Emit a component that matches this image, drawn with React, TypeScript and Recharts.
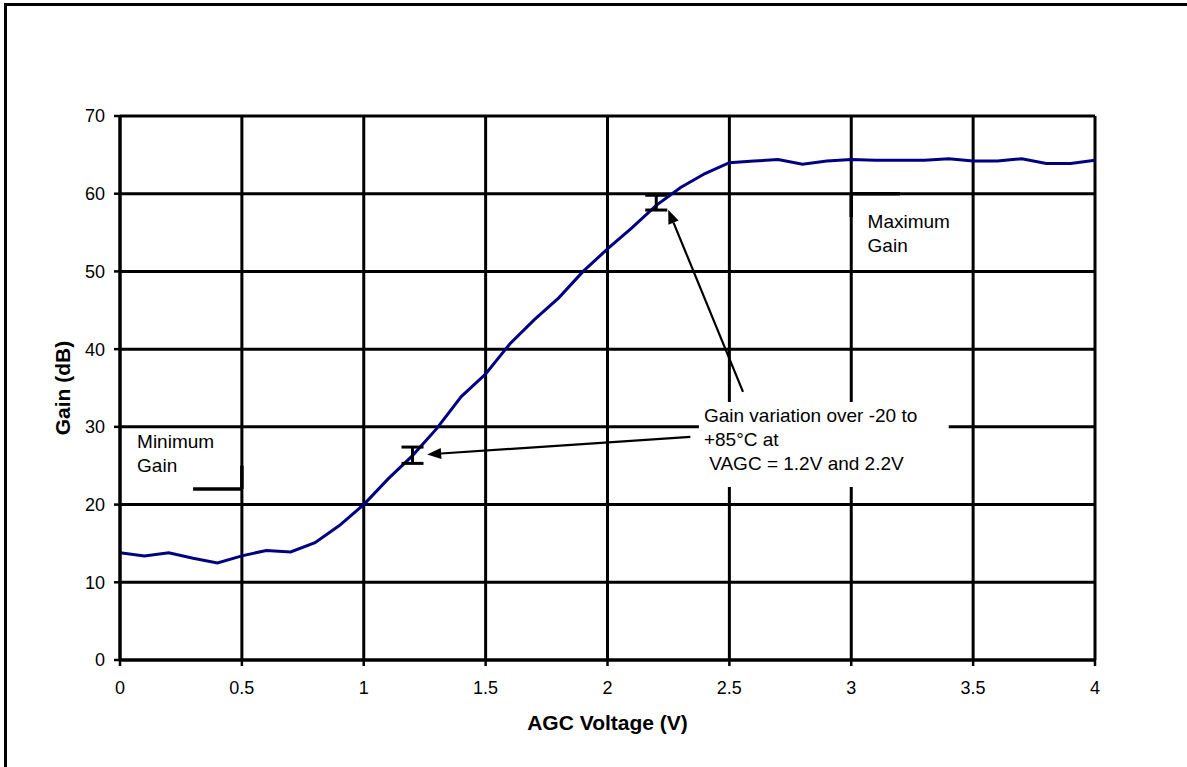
import {
  CartesianGrid,
  ComposedChart,
  ErrorBar,
  Label,
  Line,
  ReferenceArea,
  ReferenceDot,
  ReferenceLine,
  Scatter,
  XAxis,
  YAxis,
} from "recharts";

// AGC voltage sweep (V) and measured gain (dB)
const voltages = [
  0, 0.1, 0.2, 0.3, 0.4, 0.5, 0.6, 0.7, 0.8, 0.9, 1.0, 1.1, 1.2, 1.3, 1.4, 1.5, 1.6, 1.7, 1.8, 1.9, 2.0,
  2.1, 2.2, 2.3, 2.4, 2.5, 2.6, 2.7, 2.8, 2.9, 3.0, 3.1, 3.2, 3.3, 3.4, 3.5, 3.6, 3.7, 3.8, 3.9, 4.0,
];
const gainDb = [
  13.8, 13.4, 13.8, 13.1, 12.5, 13.4, 14.1, 13.9, 15.1, 17.3, 20.0, 23.3, 26.3, 29.8, 33.9, 36.8, 40.7,
  43.8, 46.6, 50.0, 52.9, 55.6, 58.5, 60.8, 62.6, 64.0, 64.2, 64.4, 63.8, 64.2, 64.4, 64.3, 64.3, 64.3,
  64.5, 64.2, 64.2, 64.5, 63.9, 63.9, 64.3,
];

const xTicks = [0, 0.5, 1, 1.5, 2, 2.5, 3, 3.5, 4];
const yTicks = [0, 10, 20, 30, 40, 50, 60, 70];

// temperature spread (-20 to +85 C) at two control voltages
const spreadVoltages = [1.2, 2.2];
const spreadCentre = [26.35, 58.85];
const spreadHalf = [1.05, 0.95];

// annotation arrows: tail -> head, in data units
const arrowTails = [
  { x: 2.34, y: 28.7 },
  { x: 2.556, y: 34.5 },
];
const arrowHeads = [
  { x: 1.26, y: 26.45 },
  { x: 2.249, y: 57.95 },
];

// min / max gain corner markers
const minMarker = [
  [{ x: 0.3, y: 22 }, { x: 0.5, y: 22 }],
  [{ x: 0.5, y: 22 }, { x: 0.5, y: 25 }],
];
const maxMarker = [
  [{ x: 3.0, y: 60 }, { x: 3.2, y: 60 }],
  [{ x: 3.0, y: 60 }, { x: 3.0, y: 57 }],
];

const noteBox = { x1: 2.375, x2: 3.4, y1: 22.26, y2: 33.2 };
const noteLines = ["Gain variation over -20 to", "+85°C at", " VAGC = 1.2V and 2.2V"];

const FONT = "Arial, 'Liberation Sans', Helvetica, sans-serif";

const rows = voltages.map((v, i) => ({ v, gain: gainDb[i] }));
const spreadRows = spreadVoltages.map((v, i) => ({ v, g: spreadCentre[i], err: spreadHalf[i] }));

const ArrowShape = (p: any) => {
  const { x1, y1, x2, y2 } = p;
  const ang = Math.atan2(y2 - y1, x2 - x1);
  const len = 14;
  const half = 5.5;
  const bx = x2 - len * Math.cos(ang);
  const by = y2 - len * Math.sin(ang);
  const nx = -Math.sin(ang) * half;
  const ny = Math.cos(ang) * half;
  return (
    <g>
      <line x1={x1} y1={y1} x2={bx} y2={by} stroke="#000" strokeWidth={2.2} />
      <polygon points={`${x2},${y2} ${bx + nx},${by + ny} ${bx - nx},${by - ny}`} fill="#000" />
    </g>
  );
};

const multiLine = (lines: string[], dx: number, dy: number) => (props: any) => {
  const vb = props.viewBox || {};
  return (
    <text x={vb.x + dx} y={vb.y + dy} fontFamily={FONT} fontSize={19} fill="#000" style={{ whiteSpace: "pre" }}>
      {lines.map((t, i) => (
        <tspan key={i} x={vb.x + dx} dy={i === 0 ? 0 : 24}>
          {t}
        </tspan>
      ))}
    </text>
  );
};

const xTitle = (props: any) => {
  const vb = props.viewBox;
  return (
    <text x={vb.x + vb.width / 2} y={vb.y + 70} textAnchor="middle" fontFamily={FONT} fontWeight="bold" fontSize={21} fill="#000">
      AGC Voltage (V)
    </text>
  );
};

const yTitle = (props: any) => {
  const vb = props.viewBox;
  const cx = vb.x + 3;
  const cy = vb.y + vb.height / 2;
  return (
    <text
      x={cx}
      y={cy}
      transform={`rotate(-90 ${cx} ${cy})`}
      textAnchor="middle"
      dominantBaseline="central"
      fontFamily={FONT}
      fontWeight="bold"
      fontSize={21}
      fill="#000"
    >
      Gain (dB)
    </text>
  );
};

export default function App() {
  return (
    <div style={{ position: "absolute", left: 0, top: 0, width: 1187, height: 767, overflow: "hidden", background: "#fff" }}>
      <div
        style={{
          position: "absolute",
          left: 4,
          top: 3,
          width: 1183,
          height: 764,
          borderLeft: "3px solid #000",
          borderTop: "3px solid #000",
          boxSizing: "border-box",
        }}
      />
      <div style={{ position: "absolute", left: 0, top: 0 }}>
        <ComposedChart width={1187} height={767} data={rows} margin={{ top: 116, right: 92, bottom: 77, left: 59 }}>
          <CartesianGrid stroke="#000" strokeWidth={3} />
          <XAxis
            dataKey="v"
            type="number"
            domain={[0, 4]}
            ticks={xTicks}
            height={30}
            tickSize={6}
            tickMargin={15}
            axisLine={{ stroke: "#000", strokeWidth: 3 }}
            tickLine={{ stroke: "#000", strokeWidth: 2.5 }}
            tick={{ fill: "#000", fontSize: 18, fontFamily: FONT }}
            interval={0}
          >
            <Label content={xTitle} />
          </XAxis>
          <YAxis
            type="number"
            domain={[0, 70]}
            ticks={yTicks}
            width={61}
            tickSize={6}
            tickMargin={9}
            axisLine={{ stroke: "#000", strokeWidth: 3 }}
            tickLine={{ stroke: "#000", strokeWidth: 2.5 }}
            tick={{ fill: "#000", fontSize: 18, fontFamily: FONT }}
            interval={0}
          >
            <Label content={yTitle} />
          </YAxis>
          <ReferenceArea
            x1={noteBox.x1}
            x2={noteBox.x2}
            y1={noteBox.y1}
            y2={noteBox.y2}
            fill="#fff"
            fillOpacity={1}
            stroke="none"
            label={multiLine(noteLines, 5, 20)}
          />
          {minMarker.concat(maxMarker).map((seg, i) => (
            <ReferenceLine key={`m${i}`} segment={seg} stroke="#000" strokeWidth={3.5} />
          ))}
          {arrowTails.map((t, i) => (
            <ReferenceLine key={`a${i}`} segment={[t, arrowHeads[i]]} shape={ArrowShape} />
          ))}
          <ReferenceDot x={0.07} y={27.3} r={0} fill="none" stroke="none" label={multiLine(["Minimum", "Gain"], 0, 0)} />
          <ReferenceDot x={3.067} y={55.6} r={0} fill="none" stroke="none" label={multiLine(["Maximum", "Gain"], 0, 0)} />
          <Line
            type="linear"
            dataKey="gain"
            stroke="#000080"
            strokeWidth={3}
            dot={false}
            activeDot={false}
            isAnimationActive={false}
          />
          <Scatter data={spreadRows} dataKey="g" shape={() => <g />} isAnimationActive={false}>
            <ErrorBar dataKey="err" direction="y" width={11} stroke="#000" strokeWidth={3} />
          </Scatter>
        </ComposedChart>
      </div>
    </div>
  );
}
